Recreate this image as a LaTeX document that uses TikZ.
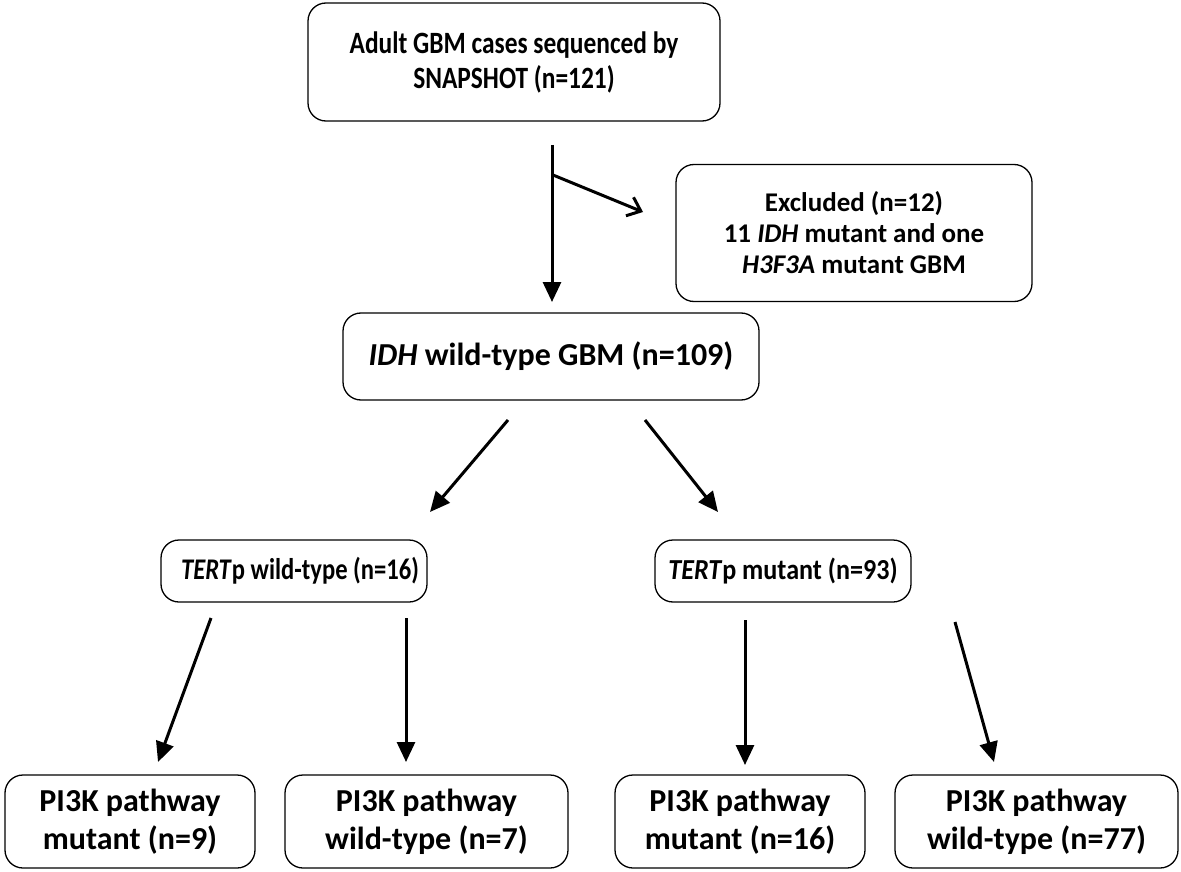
\documentclass[tikz,border=0pt]{standalone}
\usepackage{fontspec}
\setmainfont{Carlito}
\newfontfamily\condA[FakeStretch=0.82]{Carlito}
\newfontfamily\condB[FakeStretch=0.9]{Carlito}
\usetikzlibrary{arrows.meta}
\begin{document}
\begin{tikzpicture}[x=1pt,y=-1pt,
  box/.style={draw, line width=1.3pt, rounded corners=18pt, align=center, inner sep=0pt},
  fTop/.style={font=\condA\fontsize{31}{35}\selectfont\bfseries},
  fEx/.style={font=\fontsize{27}{31}\selectfont\bfseries},
  fTa/.style={font=\condA\fontsize{30}{34}\selectfont\bfseries},
  fTb/.style={font=\condB\fontsize{29}{34}\selectfont\bfseries},
  fC/.style={font=\fontsize{32}{38}\selectfont\bfseries},
  arr/.style={line width=3pt, -{Triangle[length=20pt,width=18pt]}}]
\useasboundingbox (0,0) rectangle (1181,872);
% boxes
\node[box, fTop, minimum width=412pt, minimum height=118pt] (top) at (514,62) {Adult GBM cases sequenced by\\SNAPSHOT (n=121)};
\node[box, fEx, minimum width=356pt, minimum height=137pt] (excl) at (854,233) {Excluded (n=12)\\11 \textit{IDH} mutant and one\\\textit{H3F3A} mutant GBM};
\node[box, fC, minimum width=416pt, minimum height=87pt] (idh) at (551,356.5) {\textit{IDH} wild-type GBM (n=109)};
\node[box, fTa, minimum width=266pt, minimum height=62pt] (twt) at (294,571) {\hspace*{12pt}\textit{TERT}p wild-type (n=16)};
\node[box, fTb, minimum width=256pt, minimum height=62pt] (tmut) at (783,571) {\textit{TERT}p mutant (n=93)};
\node[box, fC, minimum width=250pt, minimum height=93pt] (p1) at (130,821.5) {PI3K pathway\\mutant (n=9)};
\node[box, fC, minimum width=283pt, minimum height=93pt] (p2) at (426.5,821.5) {PI3K pathway\\wild-type (n=7)};
\node[box, fC, minimum width=250pt, minimum height=93pt] (p3) at (740,821.5) {PI3K pathway\\mutant (n=16)};
\node[box, fC, minimum width=283pt, minimum height=93pt] (p4) at (1036.5,821.5) {PI3K pathway\\wild-type (n=77)};
% connector end points
\coordinate (a0) at (552,145);
\coordinate (a1) at (552,302);
\coordinate (b0) at (553,175);
\coordinate (b1) at (643,212);
\coordinate (c0) at (508,420);
\coordinate (c1) at (430,512);
\coordinate (d0) at (645,420);
\coordinate (d1) at (718,512);
\coordinate (e0) at (211,618);
\coordinate (e1) at (158,762);
\coordinate (f0) at (406,618);
\coordinate (f1) at (406,762);
\coordinate (g0) at (745,620);
\coordinate (g1) at (745,765);
\coordinate (h0) at (955,622);
\coordinate (h1) at (994,762);
% connectors
\draw[arr] (a0) -- (a1);
\draw[line width=3pt, -{Straight Barb[length=12pt,width=20pt,line width=3pt]}] (b0) -- (b1);
\draw[arr] (c0) -- (c1);
\draw[arr] (d0) -- (d1);
\draw[arr] (e0) -- (e1);
\draw[arr] (f0) -- (f1);
\draw[arr] (g0) -- (g1);
\draw[arr] (h0) -- (h1);
\end{tikzpicture}
\end{document}
